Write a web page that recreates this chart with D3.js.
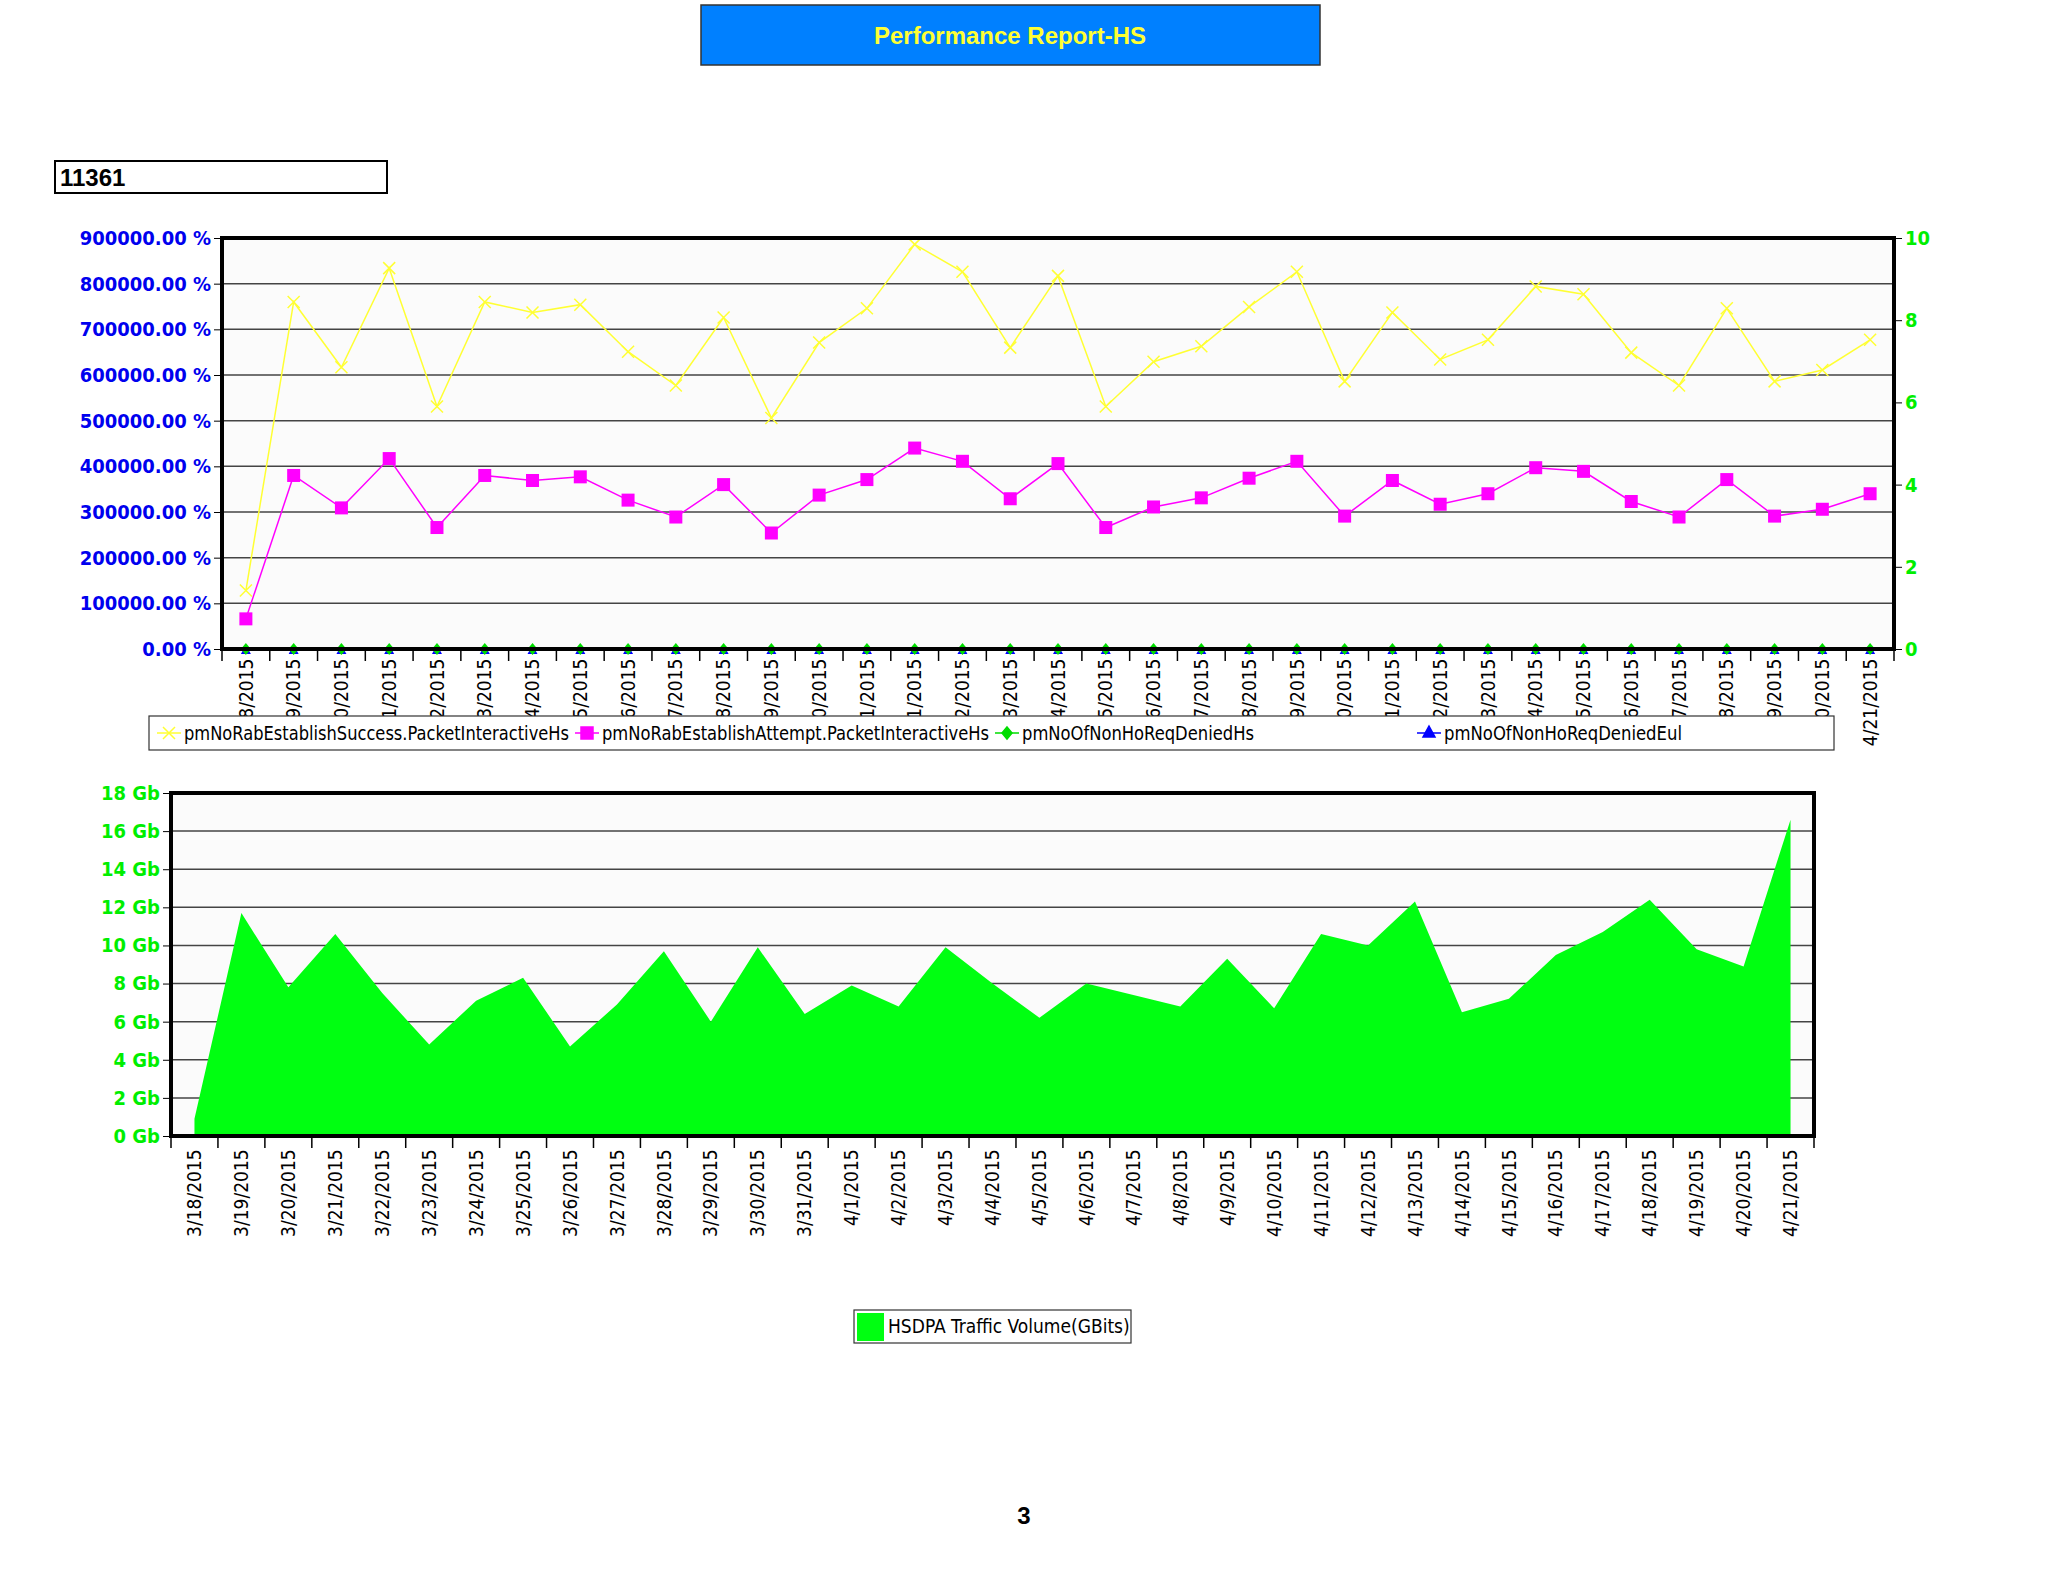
<!DOCTYPE html>
<html><head><meta charset="utf-8">
<script src="https://cdn.jsdelivr.net/npm/d3@7"></script>
<style>body{margin:0;background:#fff}</style>
</head><body>
<div id="chart"></div>
<script>
var dates = ["3/18/2015","3/19/2015","3/20/2015","3/21/2015","3/22/2015","3/23/2015","3/24/2015","3/25/2015","3/26/2015","3/27/2015","3/28/2015","3/29/2015","3/30/2015","3/31/2015","4/1/2015","4/2/2015","4/3/2015","4/4/2015","4/5/2015","4/6/2015","4/7/2015","4/8/2015","4/9/2015","4/10/2015","4/11/2015","4/12/2015","4/13/2015","4/14/2015","4/15/2015","4/16/2015","4/17/2015","4/18/2015","4/19/2015","4/20/2015","4/21/2015"];
var rabSuccess = [128000,760000,617000,834000,531000,760000,737000,754000,651000,577000,726000,506000,671000,746000,886000,826000,660000,817000,531000,629000,663000,749000,826000,586000,737000,634000,677000,794000,777000,649000,577000,746000,586000,611000,677000];
var rabAttempt = [66000,380000,309000,417000,266000,380000,369000,377000,326000,289000,360000,254000,337000,371000,440000,411000,329000,406000,266000,311000,331000,374000,411000,291000,369000,317000,340000,397000,389000,323000,289000,371000,291000,306000,340000];
var deniedHs = dates.map(function(){return 0;});
var deniedEul = dates.map(function(){return 0;});
var traffic = [0.9,11.7,7.8,10.6,7.5,4.8,7.1,8.3,4.7,6.9,9.7,6.0,9.9,6.4,7.9,6.8,9.9,8.0,6.2,8.0,7.4,6.8,9.3,6.7,10.6,10.0,12.3,6.5,7.2,9.5,10.7,12.4,9.8,8.9,16.6];
var leftTicks = [0,100000,200000,300000,400000,500000,600000,700000,800000,900000];
var rightTicks = [0,2,4,6,8,10];
var gbTicks = [0,2,4,6,8,10,12,14,16,18];

var font = "'DejaVu Sans Condensed','DejaVu Sans',sans-serif";
var svg = d3.select("#chart").append("svg").attr("width",2048).attr("height",1582);

// title
svg.append("rect").attr("x",701).attr("y",5).attr("width",619).attr("height",60)
  .attr("fill","#0080ff").attr("stroke","#333").attr("stroke-width",1.5);
svg.append("text").text("Performance Report-HS").attr("x",1010).attr("y",44)
  .attr("text-anchor","middle").attr("font-family","Liberation Sans,Arial,sans-serif")
  .attr("font-weight","bold").attr("font-size","24px").attr("fill","#ffff33");

svg.append("rect").attr("x",55).attr("y",161).attr("width",332).attr("height",32)
  .attr("fill","#fff").attr("stroke","#000").attr("stroke-width",2);
svg.append("text").text("11361").attr("x",60).attr("y",186)
  .attr("font-family","Liberation Sans,Arial,sans-serif").attr("font-weight","bold")
  .attr("font-size","24px").attr("fill","#000");

// ---------- top chart ----------
var t = {l:222, r:1894, t:238, b:649};
var x1 = d3.scaleBand().domain(dates).range([t.l,t.r]);
var y1 = d3.scaleLinear().domain([0,900000]).range([t.b,t.t]);
var y1r = d3.scaleLinear().domain([0,10]).range([t.b,t.t]);

svg.append("rect").attr("x",t.l).attr("y",t.t).attr("width",t.r-t.l).attr("height",t.b-t.t).attr("fill","#fbfbfb");
svg.append("g").selectAll("line").data(leftTicks).join("line")
  .attr("x1",t.l).attr("x2",t.r).attr("y1",d=>y1(d)).attr("y2",d=>y1(d))
  .attr("stroke","#444").attr("stroke-width",1.5);

var gl = svg.append("g").attr("transform","translate("+t.l+",0)")
  .call(d3.axisLeft(y1).tickValues(leftTicks).tickSize(8).tickFormat(d=>d3.format(".2f")(d)+" %"));
gl.select(".domain").remove();
gl.selectAll("text").attr("font-family",font).attr("font-weight","bold").attr("font-size","20px").attr("fill","#0000ee");
gl.selectAll("line").attr("stroke","#000");

var gr = svg.append("g").attr("transform","translate("+t.r+",0)")
  .call(d3.axisRight(y1r).tickValues(rightTicks).tickSize(8));
gr.select(".domain").remove();
gr.selectAll("text").attr("font-family",font).attr("font-weight","bold").attr("font-size","20px").attr("fill","#00ee00");
gr.selectAll("line").attr("stroke","#000");

var gb1 = svg.append("g").attr("transform","translate(0,"+t.b+")")
  .call(d3.axisBottom(x1).tickSize(0));
gb1.select(".domain").remove();
gb1.selectAll("text").attr("transform","rotate(-90)").attr("text-anchor","end")
  .attr("dx","-0.5em").attr("dy","0.35em").attr("y",0)
  .attr("font-family",font).attr("font-size","19px").attr("fill","#000");
svg.append("g").selectAll("line").data(dates.concat(["end"])).join("line")
  .attr("x1",(d,i)=>t.l+i*x1.bandwidth()).attr("x2",(d,i)=>t.l+i*x1.bandwidth())
  .attr("y1",t.b).attr("y2",t.b+12).attr("stroke","#000").attr("stroke-width",1.5);

function cx(d,i){return x1(dates[i])+x1.bandwidth()/2;}
var line1 = d3.line().x(cx).y(d=>y1(d));
svg.append("path").datum(rabSuccess).attr("d",line1).attr("fill","none").attr("stroke","#ffff33").attr("stroke-width",1.5);
svg.append("path").datum(rabAttempt).attr("d",line1).attr("fill","none").attr("stroke","#ff00ff").attr("stroke-width",1.5);
svg.append("g").selectAll("path").data(rabSuccess).join("path")
  .attr("d",(d,i)=>{var X=cx(d,i),Y=y1(d),s=6;return "M"+(X-s)+","+(Y-s)+"L"+(X+s)+","+(Y+s)+"M"+(X-s)+","+(Y+s)+"L"+(X+s)+","+(Y-s);})
  .attr("stroke","#ffff33").attr("stroke-width",1.5);
svg.append("g").selectAll("rect").data(rabAttempt).join("rect")
  .attr("x",(d,i)=>cx(d,i)-6.5).attr("y",d=>y1(d)-6.5).attr("width",13).attr("height",13).attr("fill","#ff00ff");
svg.append("g").selectAll("path").data(deniedEul).join("path")
  .attr("d",(d,i)=>{var X=cx(d,i),Y=y1r(d)+2;return "M"+X+","+(Y-6)+"L"+(X+5)+","+(Y+3)+"L"+(X-5)+","+(Y+3)+"Z";})
  .attr("fill","#0000ff");
svg.append("g").selectAll("path").data(deniedHs).join("path")
  .attr("d",(d,i)=>{var X=cx(d,i),Y=y1r(d);return "M"+X+","+(Y-6)+"L"+(X+5)+","+Y+"L"+X+","+(Y+6)+"L"+(X-5)+","+Y+"Z";})
  .attr("fill","#00dd00");

svg.append("rect").attr("x",t.l).attr("y",t.t).attr("width",t.r-t.l).attr("height",t.b-t.t)
  .attr("fill","none").attr("stroke","#000").attr("stroke-width",4);

// top legend (covers the start of the date labels)
svg.append("rect").attr("x",149).attr("y",716).attr("width",1685).attr("height",34)
  .attr("fill","#fff").attr("stroke","#333").attr("stroke-width",1.2);
var legItems = [
  {name:"pmNoRabEstablishSuccess.PacketInteractiveHs", c:"#ffff33", m:"x", x:157, w:385},
  {name:"pmNoRabEstablishAttempt.PacketInteractiveHs", c:"#ff00ff", m:"sq", x:575, w:387},
  {name:"pmNoOfNonHoReqDeniedHs", c:"#00dd00", m:"dia", x:995, w:232},
  {name:"pmNoOfNonHoReqDeniedEul", c:"#0000ff", m:"tri", x:1417, w:238}
];
var lg = svg.append("g").selectAll("g").data(legItems).join("g").attr("transform",d=>"translate("+d.x+",733)");
lg.append("line").attr("x1",0).attr("x2",24).attr("stroke",d=>d.c).attr("stroke-width",1.5);
lg.append("path").attr("d",d=>{
  if(d.m=="x") return "M6,-6L18,6M6,6L18,-6";
  if(d.m=="sq") return "M6,-6H18V6H6Z";
  if(d.m=="dia") return "M12,-6L17,0L12,6L7,0Z";
  return "M12,-7L18,4H6Z";})
  .attr("fill",d=>d.m=="x"?"none":d.c).attr("stroke",d=>d.c).attr("stroke-width",1.5);
lg.append("text").text(d=>d.name).attr("x",27).attr("y",7)
  .attr("textLength",d=>d.w).attr("lengthAdjust","spacingAndGlyphs")
  .attr("font-family",font).attr("font-size","20px").attr("fill","#000");

// ---------- bottom chart ----------
var b = {l:171, r:1814, t:793, b:1136};
var x2 = d3.scaleBand().domain(dates).range([b.l,b.r]);
var y2 = d3.scaleLinear().domain([0,18]).range([b.b,b.t]);

svg.append("rect").attr("x",b.l).attr("y",b.t).attr("width",b.r-b.l).attr("height",b.b-b.t).attr("fill","#fbfbfb");
svg.append("g").selectAll("line").data(gbTicks).join("line")
  .attr("x1",b.l).attr("x2",b.r).attr("y1",d=>y2(d)).attr("y2",d=>y2(d))
  .attr("stroke","#444").attr("stroke-width",1.5);

var area = d3.area().x((d,i)=>x2(dates[i])+x2.bandwidth()/2).y0(b.b).y1(d=>y2(d));
svg.append("path").datum(traffic).attr("d",area).attr("fill","#00ff11");

var gl2 = svg.append("g").attr("transform","translate("+b.l+",0)")
  .call(d3.axisLeft(y2).tickValues(gbTicks).tickSize(8).tickFormat(d=>d+" Gb"));
gl2.select(".domain").remove();
gl2.selectAll("text").attr("font-family",font).attr("font-weight","bold").attr("font-size","20px").attr("fill","#00ee00");
gl2.selectAll("line").attr("stroke","#000");

var gb2 = svg.append("g").attr("transform","translate(0,"+b.b+")")
  .call(d3.axisBottom(x2).tickSize(0));
gb2.select(".domain").remove();
gb2.selectAll("text").attr("transform","rotate(-90)").attr("text-anchor","end")
  .attr("dx","-0.7em").attr("dy","0.35em").attr("y",0)
  .attr("font-family",font).attr("font-size","19px").attr("fill","#000");
svg.append("g").selectAll("line").data(dates.concat(["end"])).join("line")
  .attr("x1",(d,i)=>b.l+i*x2.bandwidth()).attr("x2",(d,i)=>b.l+i*x2.bandwidth())
  .attr("y1",b.b).attr("y2",b.b+12).attr("stroke","#000").attr("stroke-width",1.5);

svg.append("rect").attr("x",b.l).attr("y",b.t).attr("width",b.r-b.l).attr("height",b.b-b.t)
  .attr("fill","none").attr("stroke","#000").attr("stroke-width",4);

// bottom legend
svg.append("rect").attr("x",854).attr("y",1310).attr("width",277).attr("height",33)
  .attr("fill","#fff").attr("stroke","#333").attr("stroke-width",1.2);
svg.append("rect").attr("x",857).attr("y",1313).attr("width",27).attr("height",28).attr("fill","#00ff11");
svg.append("text").text("HSDPA Traffic Volume(GBits)").attr("x",888).attr("y",1333)
  .attr("font-family",font).attr("font-size","19px").attr("fill","#000");

svg.append("text").text("3").attr("x",1024).attr("y",1524).attr("text-anchor","middle")
  .attr("font-family","Liberation Sans,Arial,sans-serif").attr("font-weight","bold").attr("font-size","24px");
</script>
</body></html>
